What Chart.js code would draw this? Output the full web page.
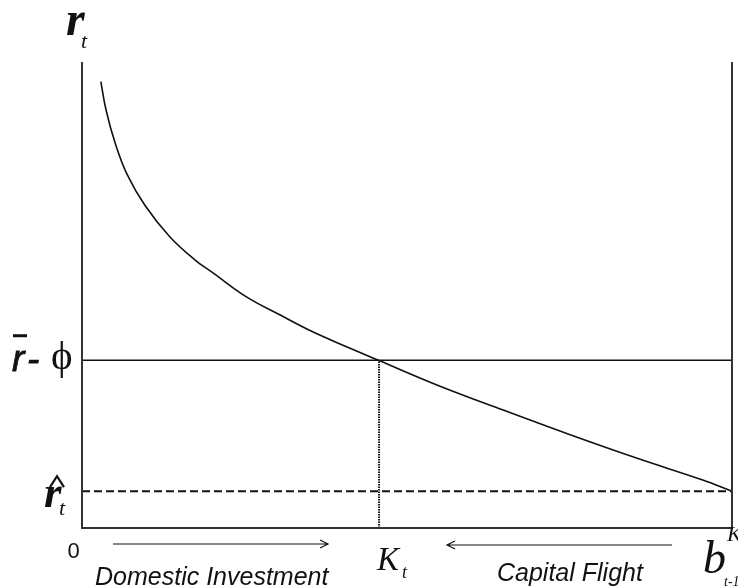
<!DOCTYPE html>
<html>
<head>
<meta charset="utf-8">
<script src="https://cdn.jsdelivr.net/npm/chart.js@4.4.1/dist/chart.umd.min.js"></script>
<style>
  html, body { margin: 0; padding: 0; background: #fff; }
  #wrap { width: 738px; height: 586px; }
</style>
</head>
<body>
<div id="wrap"><canvas id="c" width="738" height="586"></canvas></div>
<script>
// values (axes run 0..100 in both directions)
const curveX = [2.9, 3.7, 5.1, 6.9, 9.7, 13.5, 17.4, 20.2, 25.3, 30.5, 35.5, 40.7, 45.6, 54.6, 64.8, 75.1, 85.3, 95.5, 100];
const curveY = [95.8, 89.7, 82.6, 76.0, 69.2, 62.5, 57.5, 54.7, 49.6, 45.7, 42.1, 38.9, 36.0, 30.7, 25.3, 20.0, 15.0, 10.3, 7.9];
const rBarPhi = 36.0;   // r-bar minus phi
const rHat = 7.9;       // r-hat_t
const kT = 45.7;        // K_t
const bK = 100;         // b^K_{t-1}
const yTop = 100;

const pts = (xs, ys) => xs.map((x, i) => ({ x: x, y: ys[i] }));

function arrow(ctx, x1, x2, y){
  ctx.beginPath();
  ctx.moveTo(x1, y); ctx.lineTo(x2, y);
  const d = x2 > x1 ? -1 : 1;
  ctx.moveTo(x2 + d * 8, y - 4); ctx.lineTo(x2, y); ctx.lineTo(x2 + d * 8, y + 4);
  ctx.stroke();
}

const labels = {
  id: 'labels',
  afterDraw(chart){
    const ctx = chart.ctx;
    const xs = chart.scales.x, ys = chart.scales.y;
    const serif = '"Liberation Serif", "DejaVu Serif", serif';
    const sans = '"Liberation Sans", Arial, sans-serif';
    ctx.save();
    ctx.fillStyle = '#111';
    ctx.strokeStyle = '#111';
    ctx.textBaseline = 'alphabetic';
    ctx.textAlign = 'left';

    // r_t
    ctx.font = 'italic bold 48px ' + serif;
    ctx.fillText('r', 66, 35);
    ctx.font = 'italic 22px ' + serif;
    ctx.fillText('t', 81, 48);

    // r-bar - phi
    const yb = ys.getPixelForValue(rBarPhi);
    ctx.font = 'italic 37px ' + sans;
    ctx.lineWidth = 0.8;
    ctx.fillText('r', 12, yb + 11);
    ctx.strokeText('r', 12, yb + 11);
    ctx.fillRect(13, yb - 26, 14, 3);
    ctx.fillText('-', 27, yb + 11);
    ctx.strokeText('-', 27, yb + 11);
    ctx.font = '41px ' + serif;
    ctx.fillText('\u03D5', 51, yb + 9);

    // r-hat_t
    const yh = ys.getPixelForValue(rHat);
    ctx.font = 'italic bold 45px ' + serif;
    ctx.fillText('r', 44, yh + 16);
    ctx.lineWidth = 2.2;
    ctx.beginPath();
    ctx.moveTo(50, yh - 4); ctx.lineTo(57, yh - 15); ctx.lineTo(64, yh - 4);
    ctx.stroke();
    ctx.font = 'italic 22px ' + serif;
    ctx.fillText('t', 59, yh + 24);

    // origin
    ctx.font = '22px ' + sans;
    ctx.textAlign = 'center';
    ctx.fillText('0', 73.5, 558);
    ctx.textAlign = 'left';

    // K_t
    const xk = xs.getPixelForValue(kT);
    ctx.font = 'italic 33px ' + serif;
    ctx.fillText('K', xk - 2, 570);
    ctx.font = 'italic 18px ' + serif;
    ctx.fillText('t', xk + 23, 578);

    // b^K_{t-1}
    const xb = xs.getPixelForValue(bK);
    ctx.font = 'italic 46px ' + serif;
    ctx.fillText('b', xb - 29, 573);
    ctx.font = 'italic 22px ' + serif;
    ctx.fillText('K', xb - 5, 541);
    ctx.font = 'italic 14px ' + serif;
    ctx.fillText('t-1', xb - 8, 586);

    // arrows + captions
    ctx.lineWidth = 1.2;
    arrow(ctx, 113, 328, 544);
    arrow(ctx, 672, 447, 545);
    ctx.font = 'italic 25px ' + sans;
    ctx.fillText('Domestic Investment', 95, 585);
    ctx.fillText('Capital Flight', 497, 581);
    ctx.restore();
  }
};

const line = (data, width, dash, color) => ({
  data: data, showLine: true, pointRadius: 0, borderColor: color || '#111',
  borderWidth: width, borderDash: dash || [], clip: false, tension: 0
});

const curve = line(pts(curveX, curveY), 1.6);
curve.tension = 0.4;

new Chart(document.getElementById('c'), {
  type: 'scatter',
  data: {
    datasets: [
      line([{ x: 0, y: yTop }, { x: 0, y: 0 }, { x: bK, y: 0 }, { x: bK, y: yTop }], 2, [], '#333'),
      line([{ x: 0, y: rBarPhi }, { x: bK, y: rBarPhi }], 1.6),
      line([{ x: 0, y: rHat }, { x: bK, y: rHat }], 2, [8, 4]),
      line([{ x: kT, y: 0 }, { x: kT, y: rBarPhi }], 2, [1.5, 1]),
      curve
    ]
  },
  options: {
    responsive: false,
    animation: false,
    layout: { padding: { left: 82, top: 62, right: 6, bottom: 58 } },
    plugins: { legend: { display: false }, tooltip: { enabled: false } },
    scales: {
      x: { type: 'linear', min: 0, max: bK, display: false },
      y: { type: 'linear', min: 0, max: yTop, display: false }
    }
  },
  plugins: [labels]
});
</script>
</body>
</html>
